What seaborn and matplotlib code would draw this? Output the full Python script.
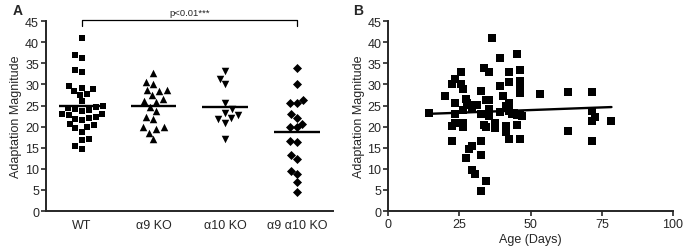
import numpy as np
import pandas as pd
import matplotlib
matplotlib.use("Agg")
import matplotlib.pyplot as plt
import seaborn as sns

# ---------------- data ----------------
categories = ["WT", "α9 KO", "α10 KO", "α9 α10 KO"]
markers = ["s", "^", "v", "D"]

wt = [41.0, 36.9, 36.3, 33.5, 32.9, 29.6, 29.2, 28.8, 28.5, 27.8, 27.6, 26.0,
      24.9, 24.6, 24.0, 24.5, 24.2, 23.0, 23.6, 22.8, 23.0, 22.0, 22.2, 21.8,
      21.5, 20.6, 20.3, 19.9, 19.6, 18.8, 17.0, 16.8, 15.4, 14.7]
a9ko = [32.6, 30.2, 30.6, 28.7, 28.7, 28.4, 27.4, 26.6, 26.0, 25.8, 24.7,
        21.9, 23.6, 22.4, 19.8, 20.0, 19.4, 18.6, 17.1]
a10ko = [31.3, 33.2, 30.0, 25.6, 24.2, 22.7, 21.7, 23.3, 22.1, 20.9, 17.1]
a9a10ko = [33.8, 30.0, 25.6, 25.6, 26.3, 22.9, 22.1, 20.7, 19.8, 19.9, 16.7,
           16.4, 13.2, 12.4, 9.6, 8.7, 7.0, 4.6]
group_values = [wt, a9ko, a10ko, a9a10ko]

age_days = [14.4, 20.0, 22.3, 23.5, 23.5, 23.5, 22.3, 23.5, 22.3, 25.4, 25.4,
            26.3, 26.3, 26.3, 26.3, 27.3, 27.5, 27.3, 28.4, 28.4, 29.4, 29.4,
            30.3, 29.4, 31.2, 32.4, 32.4, 32.4, 32.4, 32.4, 33.6, 33.6, 34.5,
            34.5, 34.5, 35.4, 35.4, 35.4, 35.4, 36.4, 37.5, 37.5, 39.4, 39.4,
            39.4, 40.4, 41.3, 41.3, 41.3, 42.5, 42.5, 42.5, 42.5, 42.5, 43.4,
            44.3, 45.3, 45.3, 45.3, 46.2, 46.2, 46.2, 46.2, 46.2, 46.2, 47.1,
            53.2, 63.3, 63.3, 71.6, 71.6, 71.6, 72.5, 71.6, 78.4]
age_adapt = [23.2, 27.2, 30.2, 31.3, 25.7, 22.9, 20.1, 20.9, 16.7, 32.9, 30.0,
             29.0, 23.9, 20.9, 19.9, 26.6, 25.7, 12.6, 25.1, 14.8, 15.4, 9.7,
             8.7, 24.5, 25.1, 28.4, 22.9, 16.6, 13.4, 4.7, 33.9, 20.3, 26.4,
             19.9, 7.1, 32.9, 26.4, 24.1, 22.5, 41.0, 20.9, 19.7, 36.3, 29.6,
             23.4, 27.2, 25.0, 20.1, 18.7, 32.9, 30.5, 25.7, 23.7, 17.1, 22.9,
             23.3, 37.1, 22.7, 20.5, 33.5, 30.8, 28.8, 28.0, 22.9, 17.1, 22.5,
             27.7, 28.3, 19.0, 28.3, 23.6, 21.4, 22.4, 16.6, 21.3]

y_ticks = [0, 5, 10, 15, 20, 25, 30, 35, 40, 45]
x_ticks_b = [0, 25, 50, 75, 100]

# ---------------- style ----------------
sns.set_theme(style="ticks")
plt.rcParams["font.family"] = ["Liberation Sans", "DejaVu Sans"]
plt.rcParams["axes.linewidth"] = 1.4

fig = plt.figure(figsize=(6.86, 2.51), dpi=100)
axA = fig.add_axes([0.067, 0.155, 0.418, 0.757])
axB = fig.add_axes([0.566, 0.155, 0.415, 0.757])

# ---------------- panel A ----------------
rows = []
for cat, vals in zip(categories, group_values):
    for v in vals:
        rows.append({"group": cat, "value": v})
dfA = pd.DataFrame(rows)

for cat, mk in zip(categories, markers):
    sub = dfA[dfA["group"] == cat]
    sns.swarmplot(data=sub, x="group", y="value", order=categories, ax=axA,
                  marker=mk, color="black", size=5.0 if mk == "s" else (5.4 if mk != "D" else 4.6),
                  linewidth=0)

for i, vals in enumerate(group_values):
    m = float(np.mean(vals))
    axA.hlines(m, i - 0.32, i + 0.32, color="black", lw=1.7, zorder=5)

axA.set_xlim(-0.5, 3.5)
axA.set_ylim(0, 45)
axA.set_yticks(y_ticks)
axA.set_xlabel("")
axA.set_ylabel("Adaptation Magnitude", fontsize=9, labelpad=2)
axA.tick_params(axis="x", length=0, labelsize=9, pad=6)
axA.tick_params(axis="y", length=3.5, width=1.2, labelsize=9, pad=1.5)
sns.despine(ax=axA)

# significance bracket
axA.plot([0, 0, 3, 3], [43.8, 45.2, 45.2, 43.8], color="black", lw=0.9,
         clip_on=False)
axA.text(1.5, 46.0, "p<0.01***", ha="center", va="bottom", fontsize=6.8)
fig.text(0.018, 0.955, "A", fontsize=10, fontweight="bold", va="center")

# ---------------- panel B ----------------
dfB = pd.DataFrame({"age": age_days, "adapt": age_adapt})
sns.regplot(data=dfB, x="age", y="adapt", ax=axB, ci=None, marker="s",
            scatter_kws={"s": 30, "color": "black", "linewidths": 0, "alpha": 1},
            line_kws={"color": "black", "lw": 1.7})
axB.set_xlim(0, 100)
axB.set_ylim(0, 45)
axB.set_xticks(x_ticks_b)
axB.set_yticks(y_ticks)
axB.set_xlabel("Age (Days)", fontsize=9, labelpad=2)
axB.set_ylabel("Adaptation Magnitude", fontsize=9, labelpad=2)
axB.tick_params(axis="both", length=3.5, width=1.2, labelsize=9, pad=1.5)
sns.despine(ax=axB)
fig.text(0.515, 0.955, "B", fontsize=10, fontweight="bold", va="center")

fig.savefig("out.png", dpi=100)
